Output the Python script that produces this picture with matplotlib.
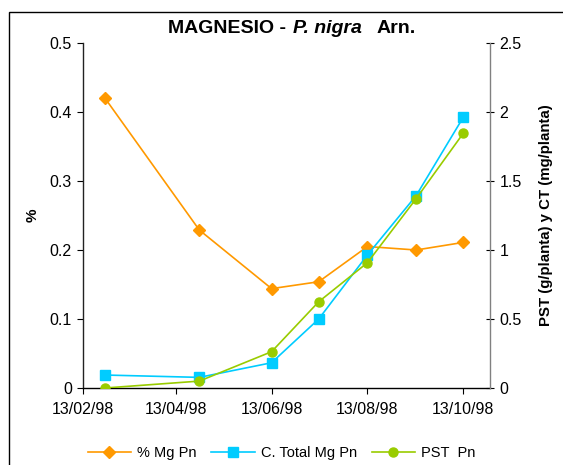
import datetime as dt
import matplotlib
matplotlib.use("Agg")
import matplotlib.pyplot as plt
import matplotlib.dates as mdates
from matplotlib.patches import Rectangle

plt.rcParams['font.family'] = ['Liberation Sans', 'DejaVu Sans']

# sampling dates
fechas = [dt.date(1998, 2, 27), dt.date(1998, 4, 28), dt.date(1998, 6, 13),
          dt.date(1998, 7, 13), dt.date(1998, 8, 13), dt.date(1998, 9, 13),
          dt.date(1998, 10, 13)]
# % Mg (left axis)
pct_mg = [0.420, 0.229, 0.144, 0.154, 0.205, 0.200, 0.211]
# total Mg content, mg/plant (right axis)
ct_mg = [0.094, 0.077, 0.183, 0.500, 0.964, 1.394, 1.962]
# total dry weight, g/plant (right axis)
pst = [0.0, 0.050, 0.263, 0.625, 0.908, 1.372, 1.846]

tick_dates = [dt.date(1998, 2, 13), dt.date(1998, 4, 13), dt.date(1998, 6, 13),
              dt.date(1998, 8, 13), dt.date(1998, 10, 13)]

c_or = '#FF9900'
c_bl = '#00CCFF'
c_gr = '#99CC00'

W, H = 563, 465
fig = plt.figure(figsize=(W / 100, H / 100), dpi=100)
ax = fig.add_axes([83 / W, 1 - 388 / H, (490 - 83) / W, (388 - 43) / H])
ax2 = ax.twinx()

l1, = ax.plot(fechas, pct_mg, color=c_or, lw=1.2, marker='D', ms=6.5, label='% Mg Pn')
l2, = ax2.plot(fechas, ct_mg, color=c_bl, lw=1.2, marker='s', ms=6.5, label='C. Total Mg Pn')
l3, = ax2.plot(fechas, pst, color=c_gr, lw=1.2, marker='o', ms=6.5, label='PST  Pn')

ax.set_xlim(dt.date(1998, 2, 13), dt.date(1998, 10, 30))
ax.set_ylim(0, 0.5)
ax2.set_ylim(0, 2.5)
ax.set_yticks([0, 0.1, 0.2, 0.3, 0.4, 0.5])
ax.set_yticklabels(['0', '0.1', '0.2', '0.3', '0.4', '0.5'])
ax2.set_yticks([0, 0.5, 1, 1.5, 2, 2.5])
ax2.set_yticklabels(['0', '0.5', '1', '1.5', '2', '2.5'])
ax.set_xticks(tick_dates)
ax.xaxis.set_major_formatter(mdates.DateFormatter('%d/%m/%y'))

for a in (ax, ax2):
    a.spines['top'].set_visible(False)
ax.spines['right'].set_visible(False)
ax2.spines['left'].set_visible(False)
ax2.spines['bottom'].set_visible(False)
ax.spines['left'].set_color('#222222')
ax.spines['bottom'].set_color('#000000')
ax2.spines['right'].set_color('#808080')
for s in ('left', 'bottom'):
    ax.spines[s].set_linewidth(1.0)
ax2.spines['right'].set_linewidth(1.0)

ax.tick_params(axis='y', labelsize=11.5, length=4, width=0.8, direction='out', pad=4)
ax.tick_params(axis='x', labelsize=11.5, length=4, width=0.8, direction='out', pad=6)
ax2.tick_params(axis='y', labelsize=11.5, length=6, width=0.8, direction='inout', pad=4)

ax.set_ylabel('%', fontsize=11, fontweight='bold', labelpad=7)
ax2.set_ylabel('PST (g/planta) y CT (mg/planta)', fontsize=10.8, fontweight='bold', labelpad=12)

# title with italic species name
ty = 1 - 33 / H
fig.text(168 / W, ty, 'MAGNESIO -', fontsize=14, fontweight='bold', va='baseline')
fig.text(293 / W, ty, 'P. nigra', fontsize=14, fontweight='bold', style='italic', va='baseline')
fig.text(377 / W, ty, 'Arn.', fontsize=14, fontweight='bold', va='baseline')

fig.legend(handles=[l1, l2, l3], loc='center', bbox_to_anchor=(0.5, 1 - 453 / H),
           ncol=3, frameon=False, fontsize=10.5, handlelength=3.0,
           columnspacing=1.0, handletextpad=0.4)

# outer chart frame
fig.patches.append(Rectangle((8.5 / W, -0.1), 1.2, 1 - 12 / H + 0.1, transform=fig.transFigure,
                             fill=False, edgecolor='#000000', lw=1.0))

fig.savefig('out.png', dpi=100)
